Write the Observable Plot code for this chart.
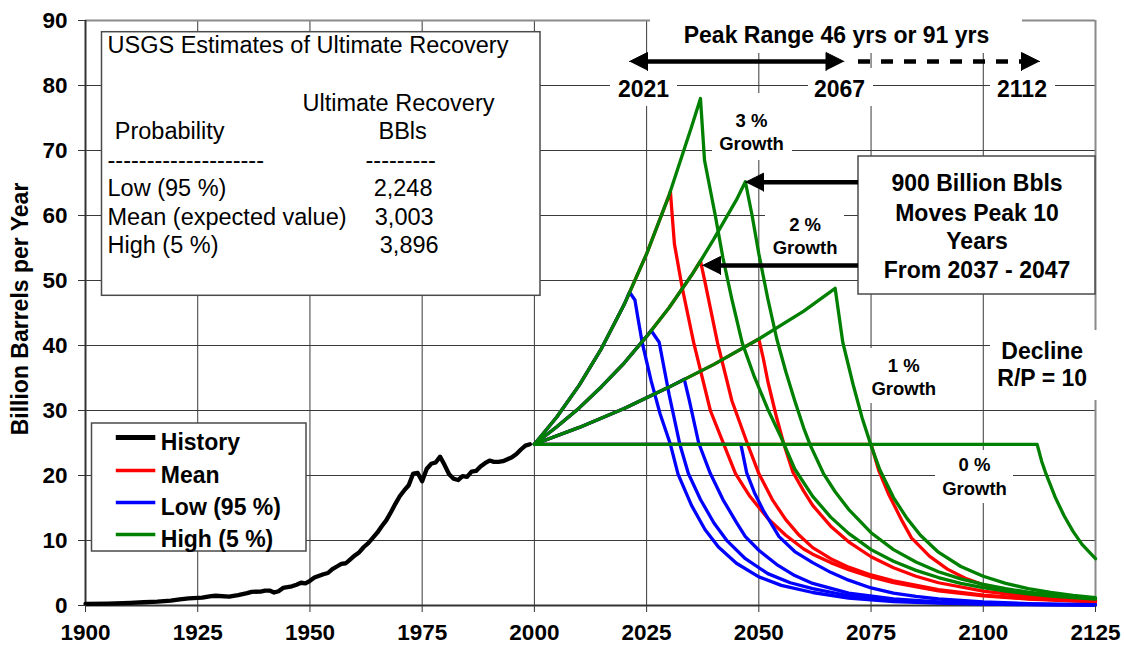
<!DOCTYPE html>
<html><head><meta charset="utf-8">
<script src="https://cdn.jsdelivr.net/npm/d3@7"></script>
<script src="https://cdn.jsdelivr.net/npm/@observablehq/plot@0.6"></script>
<style>
html,body{margin:0;padding:0;background:#fff;}
#chart{width:1124px;height:651px;}
</style></head><body><div id="chart"></div>
<script>
// ---------------- DATA ----------------
const xTicks = [1900, 1925, 1950, 1975, 2000, 2025, 2050, 2075, 2100, 2125];
const yTicks = [0, 10, 20, 30, 40, 50, 60, 70, 80, 90];
const seriesNames = ["History", "Mean", "Low (95 %)", "High (5 %)"];
const seriesColors = ["#000000", "#ff0000", "#0000ff", "#008000"];

const history = [[1900,0.25],[1905,0.3],[1910,0.4],[1913,0.5],[1916,0.6],[1919,0.75],[1921,0.95],[1923,1.1],[1926,1.2],[1928,1.45],[1929,1.5],[1932,1.35],[1934,1.6],[1936,1.9],[1937,2.1],[1939,2.15],[1940,2.3],[1941,2.3],[1942,2.0],[1943,2.2],[1944,2.7],[1946,2.95],[1947,3.2],[1948,3.5],[1949,3.4],[1950,3.8],[1951,4.3],[1953,4.8],[1954,5.0],[1955,5.6],[1956,6.0],[1957,6.4],[1958,6.5],[1959,7.1],[1960,7.7],[1961,8.2],[1962,9.0],[1963,9.6],[1964,10.4],[1965,11.2],[1966,12.2],[1967,13.1],[1968,14.3],[1969,15.6],[1970,16.8],[1971,17.7],[1972,18.5],[1973,20.3],[1974,20.4],[1975,19.1],[1976,21.0],[1977,21.8],[1978,22.0],[1979,22.9],[1980,21.6],[1981,20.2],[1982,19.5],[1983,19.3],[1984,19.9],[1985,19.8],[1986,20.6],[1987,20.7],[1988,21.4],[1989,21.9],[1990,22.3],[1991,22.1],[1992,22.1],[1993,22.2],[1994,22.5],[1995,22.8],[1996,23.3],[1997,24.0],[1998,24.6],[1999,24.8]];

// growth paths (shared by the three recovery estimates)
const growth0 = [[2000,24.8],[2125,24.8]];
const growth1 = [[2000,24.8],[2010,27.4],[2020,30.3],[2030,33.6],[2040,37.1],[2050,41.0],[2060,45.3],[2067,48.8]];
const growth2 = [[2000,24.8],[2005,27.5],[2010,30.4],[2015,33.7],[2020,37.3],[2025,41.4],[2030,45.8],[2035,50.8],[2037,53.0],[2040,56.4],[2045,62.4],[2047,65.2]];
const growth3 = [[2000,24.8],[2005,29.0],[2010,33.9],[2015,39.6],[2020,46.3],[2025,54.1],[2030,63.1],[2035,73.6],[2037,78.0]];

// declines (R/P = 10) from each peak
const low3Decline = [[2021.2,48.2],[2022.4,47.0],[2023,44.5],[2024,40.5],[2026,34.6],[2028,29.5],[2030.3,24.8],[2032,20.2],[2035,15.4],[2038,11.7],[2041,9.0],[2045,6.5],[2050,4.4],[2055,3.1],[2062,2.0],[2070,1.15],[2080,0.6],[2090,0.35],[2100,0.21],[2112,0.12],[2125,0.07]];
const low2Decline = [[2026,42.3],[2027.8,40.5],[2030,32.5],[2032.4,24.8],[2034.3,20.3],[2037,16.3],[2040,12.7],[2043,9.9],[2047,7.2],[2052,4.9],[2057,3.5],[2062,2.6],[2070,1.5],[2080,0.8],[2090,0.45],[2100,0.27],[2112,0.15],[2125,0.09]];
const low1Decline = [[2033.4,34.8],[2034.5,31.6],[2036.6,25.0],[2039.2,20.3],[2042,16.3],[2045,12.8],[2047,10.6],[2050,8.5],[2054,6.3],[2058,4.6],[2062,3.4],[2070,1.9],[2080,1.0],[2090,0.55],[2100,0.32],[2112,0.18],[2125,0.1]];
const low0Decline = [[2046,24.8],[2047.3,20.4],[2049,17.4],[2051,14.6],[2054.5,10.6],[2058,8.3],[2062,6.6],[2066,5.1],[2070,3.9],[2075,2.7],[2080,1.9],[2085,1.4],[2090,1.0],[2100,0.55],[2110,0.3],[2125,0.13]];

const mean3Decline = [[2030.3,63.7],[2030.7,60.0],[2031.2,55.6],[2032.9,49.0],[2035.5,40.4],[2039.2,30.0],[2042.2,24.8],[2044.8,20.3],[2048,16.8],[2052,13.4],[2056,10.8],[2060,8.7],[2062,7.9],[2066,6.6],[2070,5.5],[2075,4.4],[2080,3.5],[2090,2.25],[2100,1.5],[2110,1.0],[2125,0.55]];
const mean2Decline = [[2037,53.0],[2038,49.8],[2040.8,40.4],[2044,31.5],[2047.5,24.8],[2050,20.3],[2053,16.3],[2056,13.2],[2059,10.8],[2062,8.9],[2066,7.2],[2070,5.9],[2075,4.7],[2080,3.8],[2090,2.45],[2100,1.6],[2110,1.05],[2125,0.6]];
const mean1Decline = [[2050,41.0],[2051,38.0],[2052,34.5],[2054,28.8],[2055.5,25.0],[2057.6,20.5],[2060,17.6],[2062,15.4],[2066,12.2],[2070,9.8],[2075,7.5],[2080,5.8],[2085,4.5],[2090,3.5],[2100,2.2],[2110,1.4],[2125,0.75]];
const mean0Decline = [[2075,24.8],[2076.7,20.8],[2079,17.0],[2082,12.9],[2084,10.4],[2088,7.6],[2092,5.6],[2096,4.2],[2100,3.2],[2105,2.35],[2110,1.75],[2115,1.3],[2120,1.0],[2125,0.78]];

const high3Decline = [[2037,78.0],[2037.9,68.5],[2040.3,60.0],[2042,53.5],[2044,47.1],[2046.3,40.4],[2049,35.2],[2052,30.2],[2055,25.8],[2058,21.0],[2062,16.8],[2066,13.6],[2070,11.1],[2075,8.6],[2080,6.8],[2085,5.4],[2090,4.3],[2095,3.4],[2100,2.75],[2105,2.2],[2110,1.8],[2115,1.45],[2120,1.2],[2125,1.0]];
const high2Decline = [[2047,65.2],[2048.5,60.0],[2050,54.1],[2052,47.2],[2054,41.0],[2056,36.0],[2058,31.5],[2060,27.3],[2061.5,24.6],[2064.4,20.3],[2067,17.5],[2070,14.8],[2075,11.2],[2080,8.6],[2085,6.7],[2090,5.2],[2095,4.1],[2100,3.25],[2105,2.6],[2110,2.05],[2115,1.65],[2120,1.35],[2125,1.1]];
const high1Decline = [[2067,48.8],[2068.7,40.5],[2071,34.0],[2073,28.9],[2075,24.6],[2077,20.8],[2080,16.6],[2083,13.4],[2086,10.8],[2090,8.2],[2095,6.0],[2100,4.5],[2105,3.4],[2110,2.6],[2115,2.0],[2120,1.55],[2125,1.2]];
const high0Decline = [[2112,24.8],[2113,22.2],[2114,20.2],[2116,16.7],[2118,13.8],[2120,11.4],[2122,9.4],[2125,7.2]];

const boxLines = ["USGS Estimates of Ultimate Recovery", "Ultimate Recovery", "Probability", "BBls",
  "--------------------", "---------", "Low (95 %)", "2,248", "Mean (expected value)", "3,003", "High (5 %)", "3,896"];

// ---------------- BUILD ----------------
const W = 1124, H = 651, mL = 85, mR = 29, mT = 20, mB = 46;
const ax = px => 1900 + (px - mL) * 225 / (W - mL - mR);   // annotation pixel -> year
const ay = py => (H - mB - py) * 90 / (H - mT - mB);        // annotation pixel -> value

function compose(growth, decline) {
  const t0 = decline[0][0];
  return growth.filter(d => d[0] < t0).concat(decline);
}
const scenarios = [
  ["Mean", "m3", compose(growth3, mean3Decline)], ["Mean", "m2", compose(growth2, mean2Decline)],
  ["Mean", "m1", compose(growth1, mean1Decline)], ["Mean", "m0", compose(growth0, mean0Decline)],
  ["Low (95 %)", "l3", compose(growth3, low3Decline)], ["Low (95 %)", "l2", compose(growth2, low2Decline)],
  ["Low (95 %)", "l1", compose(growth1, low1Decline)], ["Low (95 %)", "l0", compose(growth0, low0Decline)],
  ["High (5 %)", "h3", compose(growth3, high3Decline)], ["High (5 %)", "h2", compose(growth2, high2Decline)],
  ["High (5 %)", "h1", compose(growth1, high1Decline)], ["High (5 %)", "h0", compose(growth0, high0Decline)]
];
const rows = scenarios.flatMap(([series, id, pts]) => pts.map(([year, value]) => ({series, id, year, value})));
const histRows = history.map(([year, value]) => ({year, value}));
const colorOf = s => seriesColors[seriesNames.indexOf(s)];

const font = "'Liberation Sans', Arial, Helvetica, sans-serif";

// annotation geometry (pixels)
const labelBoxes = [[650,1022,8,53],[610,677,67,106],[808,873,68,106],[990,1055,68,106],
  [712,792,93,160],[765,844,202,262],[863,944,348,403],[935,1013,450,503],[990,1102,330,400]];
const framedBoxes = [[101.5,540,31.7,295.3],[858,1095,156,294],[91.5,306,423,551]];
const shafts = [[640,832,61,false],[858,1022,61,true],[760,858,181.7,false],[715,858,265,false]];
const heads = [
  [[629,61],[647,52],[647,70]],
  [[843.5,61],[825.5,52],[825.5,70]],
  [[1039,61],[1021,52],[1021,70]],
  [[745,181.7],[763,172.7],[763,190.7]],
  [[702,265],[720,256],[720,274]]
];
const headRows = heads.flatMap((h, i) => h.map(p => ({id: i, px: p[0], py: p[1]})));

const boldMid = [["Peak Range 46 yrs or 91 yrs",836,42],["2021",643,96],["2067",839,96],["2112",1021.5,96],
  ["Decline",1041.7,358.3],["R/P = 10",1041.7,385],
  ["900 Billion Bbls",976.5,190.7],["Moves Peak 10",976.5,220],["Years",976.5,248.3],["From 2037 - 2047",976.5,277.3]];
const growthLbl = [["3 %",751,126.7],["Growth",751,149.3],["2 %",804.6,230],["Growth",804.6,253.3],
  ["1 %",903.3,371.7],["Growth",903.3,394.7],["0 %",974,470.7],["Growth",974,494]];
const boxPos = [[107,52.3],[302,110],[114.3,138.3],[378,138.3],[107,167],[365,167],[107,195],[373.2,195],[107,224],[374.3,224],[107,252.7],[379.3,252.7]];
const boxText = boxLines.map((t, i) => [t, boxPos[i][0], boxPos[i][1]]);
const legendRowsY = [437, 470, 502, 534];
const legendItems = seriesNames.map((s, i) => ({s, color: seriesColors[i], y: legendRowsY[i], w: i === 0 ? 5 : 3.3}));

const T = (items, o) => Plot.text(items, {x: d => ax(d[1]), y: d => ay(d[2]), text: d => d[0],
  lineAnchor: "bottom", fill: "black", fontFamily: font, ...o});

const LW = 3.3;
const chart = Plot.plot({
  width: W, height: H, marginLeft: mL, marginRight: mR, marginTop: mT, marginBottom: mB,
  x: {domain: [1900, 2125], axis: null},
  y: {domain: [0, 90], axis: null},
  style: {fontFamily: font, background: "white", color: "black", overflow: "visible"},
  marks: [
    // grid
    Plot.ruleX(xTicks.filter(t => t > 1900 && t < 2125), {stroke: "#3a3a3a", strokeWidth: 1}),
    Plot.ruleY(yTicks.filter(t => t > 0 && t < 90), {stroke: "#3a3a3a", strokeWidth: 1}),
    Plot.ruleY([90], {stroke: "#8a8a8a", strokeWidth: 2}),
    Plot.ruleX([2125], {stroke: "#8a8a8a", strokeWidth: 2}),
    // white backgrounds behind labels
    Plot.rect(labelBoxes, {x1: d => ax(d[0]), x2: d => ax(d[1]), y1: d => ay(d[3]), y2: d => ay(d[2]), fill: "white"}),
    // axes lines
    Plot.ruleX([1900], {stroke: "#333", strokeWidth: 2}),
    Plot.ruleY([0], {stroke: "#333", strokeWidth: 2}),
    // series
    Plot.line(rows.filter(d => d.series === "Mean"), {x: "year", y: "value", z: "id", stroke: colorOf("Mean"), strokeWidth: LW, strokeLinejoin: "round"}),
    Plot.line(rows.filter(d => d.series === "Low (95 %)"), {x: "year", y: "value", z: "id", stroke: colorOf("Low (95 %)"), strokeWidth: LW, strokeLinejoin: "round"}),
    Plot.line(rows.filter(d => d.series === "High (5 %)"), {x: "year", y: "value", z: "id", stroke: colorOf("High (5 %)"), strokeWidth: LW, strokeLinejoin: "round"}),
    Plot.line(histRows, {x: "year", y: "value", stroke: colorOf("History"), strokeWidth: 4.3, strokeLinejoin: "round"}),
    // framed boxes
    Plot.rect(framedBoxes, {x1: d => ax(d[0]), x2: d => ax(d[1]), y1: d => ay(d[3]), y2: d => ay(d[2]), fill: "white", stroke: "#4a4a4a", strokeWidth: 1.5}),
    // arrows
    Plot.ruleY(shafts.filter(d => !d[3]), {y: d => ay(d[2]), x1: d => ax(d[0]), x2: d => ax(d[1]), stroke: "black", strokeWidth: 4.5}),
    Plot.ruleY(shafts.filter(d => d[3]), {y: d => ay(d[2]), x1: d => ax(d[0]), x2: d => ax(d[1]), stroke: "black", strokeWidth: 4.5, strokeDasharray: "12,11"}),
    Plot.line(headRows, {x: d => ax(d.px), y: d => ay(d.py), z: "id", fill: "black", stroke: "black", strokeWidth: 1}),
    // legend
    Plot.ruleY(legendItems, {y: d => ay(d.y), x1: ax(115.8), x2: ax(155.3), stroke: d => d.color, strokeWidth: d => d.w}),
    Plot.text(legendItems, {x: ax(160.3), y: d => ay(d.y + 12), text: "s", textAnchor: "start", lineAnchor: "bottom", fontSize: 23, fontWeight: "bold", fill: "black", fontFamily: font}),
    // texts
    T(boldMid, {fontSize: 23, fontWeight: "bold"}),
    T(growthLbl, {fontSize: 18.5, fontWeight: "bold"}),
    T(boxText, {fontSize: 23.5, textAnchor: "start"}),
    Plot.text(["Billion Barrels per Year"], {x: ax(27), y: ay(308.5), text: d => d, rotate: -90, lineAnchor: "bottom", fontSize: 23, fontWeight: "bold", fill: "black", fontFamily: font}),
    // tick axes
    Plot.axisY({ticks: yTicks, tickSize: 7, tickPadding: 11, fontSize: 22.5, fontWeight: "bold", stroke: "#333", fill: "black", label: null, tickFormat: d => String(d)}),
    Plot.axisX({ticks: xTicks, tickSize: 7, tickPadding: 12, fontSize: 22.5, fontWeight: "bold", stroke: "#333", fill: "black", label: null, tickFormat: d => String(d)})
  ]
});
document.getElementById("chart").append(chart);
</script></body></html>
